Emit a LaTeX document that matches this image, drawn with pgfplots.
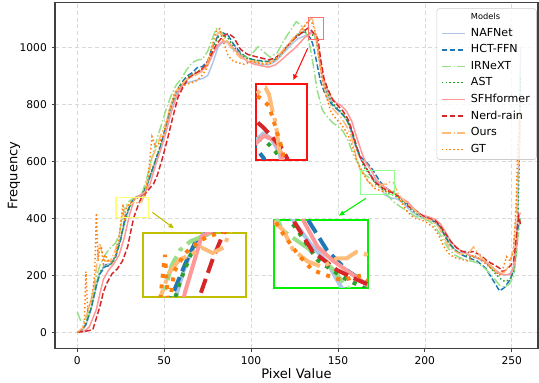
\documentclass[border=0pt]{standalone}
\usepackage{fontspec}
\setmainfont{DejaVu Sans}
\usepackage{pgfplots}
\pgfplotsset{compat=1.18}
\usepackage{pgfplotstable}
\usetikzlibrary{calc,arrows.meta}

\definecolor{cNAF}{HTML}{AEC7E8}
\definecolor{cHCT}{HTML}{1F77B4}
\definecolor{cIRN}{HTML}{98DF8A}
\definecolor{cAST}{HTML}{2CA02C}
\definecolor{cSFH}{HTML}{FF9896}
\definecolor{cNRD}{HTML}{D62728}
\definecolor{cOUR}{HTML}{FFBB78}
\definecolor{cGT}{HTML}{FF7F0E}
\definecolor{cBoxY}{HTML}{BFBF00}
\definecolor{cBoxYs}{HTML}{FFFF70}
\definecolor{cBoxG}{HTML}{00F000}
\definecolor{cBoxGs}{HTML}{90FF90}
\definecolor{cBoxR}{HTML}{FF1010}
\definecolor{cBoxRs}{HTML}{FF7070}

\tikzset{
 mdash/.style={dash pattern=on 4.2pt off 1.8pt},
 mdashdot/.style={dash pattern=on 7.2pt off 1.8pt on 1.1pt off 1.8pt},
 mdot/.style={dash pattern=on 1.1pt off 1.85pt},
 idash/.style={dash pattern=on 11pt off 4.8pt},
 idashdot/.style={dash pattern=on 19pt off 4.8pt on 3pt off 4.8pt},
 idot/.style={dash pattern=on 3pt off 5pt},
}

\pgfplotstableread{
x y
0 0
3 8
5 25
8 80
11 160
13 205
16 238
19 240
22 265
25 330
28 398
30 438
32 465
34 476
37 482
40 512
42 545
45 598
48 650
51 718
54 785
57 835
60 862
63 875
66 880
69 885
72 890
75 900
78 945
81 1000
84 1020
87 1015
90 995
94 970
98 950
102 945
106 940
110 938
114 950
118 975
121 995
124 1015
127 1030
131 1040
133.4 1047
134.6 1054
136 1047
137.2 1034
138.5 1000
140 940
142 870
144 835
147 800
150 780
153 762
156 735
159 675
162 620
164 600
167 569
171 535
174 515
177 482
180 472
184 468
188 450
192 425
196 410
200 398
204 392
208 375
211 345
214 315
217 292
220 278
223 285
226 270
230 260
235 245
240 215
243 205
246 200
249 205
251 230
252.5 300
253.5 420
254.5 700
255 1000
}\tNAF

\pgfplotstableread{
x y
0 0
3 10
5 28
8 85
11 165
13 205
16 230
19 235
22 262
25 325
27.5 404
30 440
32 466
34 474
37 480
40 515
42 550
45 602
48 655
51 725
54 795
57 845
60 875
63 898
66 910
69 928
72 932
75 950
78 1005
81 1040
84 1050
87 1040
90 1010
94 980
98 962
102 955
106 952
110 950
114 958
118 985
121 1005
124 1028
127 1045
131 1055
133.4 1037
134.6 1028
136 1000
138 940
140 880
142 845
145 810
148 790
151 775
154 755
157 725
160 660
163 615
166 600
170 570
174 530
178 505
181 492
184 480
188 462
192 438
196 418
200 402
204 394
208 376
211 345
214 312
217 290
220 275
225 262
230 250
235 225
240 175
243 145
246 158
249 185
251 215
252.5 280
253.5 360
255 400
}\tHCT

\pgfplotstableread{
x y
0 72
2 40
4 38
6 62
8 110
11 190
13 235
16 272
19 296
22 313
24 340
26 404
27.5 438
29 455
31 465
34 472
37 482
40 540
42 590
45 660
48 720
51 780
54 830
57 868
60 890
63 922
66 945
69 955
72 958
75 985
78 1035
80 1065
83 1052
87 1015
90 990
94 975
98 962
101 980
104 1002
107 985
111 965
115 980
119 1025
123 1062
126 1090
129 1075
132 1045
134 1000
136 930
138 850
141 780
144 755
147 735
150 722
153 705
156 670
159 620
162 590
165 555
170 533
175 507
178 484
182 458
186 440
190 425
194 408
198 400
202 392
205 378
208 352
211 318
214 290
217 272
220 262
225 252
230 245
235 222
240 188
243 165
246 158
249 172
251 195
252.5 260
253.5 330
255 400
}\tIRN

\pgfplotstableread{
x y
0 0
3 12
5 32
8 88
11 168
13 210
16 236
19 238
22 268
25 330
27 378
29 420
31 450
33 468
35 476
37 480
40 518
42 552
45 605
48 660
51 728
54 795
57 842
60 872
63 895
66 905
69 915
72 925
75 945
78 1000
81 1035
84 1042
87 1030
90 1002
94 975
98 960
102 955
106 950
110 948
114 958
118 985
121 1005
124 1025
127 1042
130 1055
133 1050
135 1045
136.3 1037
137.5 1027
139 970
141 900
143 855
146 810
149 790
152 772
155 745
158 700
161 640
165 580
168 555
172 518
175 505
178 493
181 484
184 474
188 455
192 432
196 412
200 400
204 392
208 373
211 342
214 310
217 290
220 278
225 266
230 262
235 248
240 210
243 190
246 178
249 185
251 210
252.5 280
253.5 400
254.5 650
255 895
}\tAST

\pgfplotstableread{
x y
0 0
3 3
5 8
7 20
9 50
11 80
13 135
15 185
18 218
21 240
24 270
27 330
30 410
33 470
36 480
39 492
42 522
45 585
48 640
51 700
54 770
57 825
60 862
63 885
66 900
69 912
72 920
75 935
78 975
81 1008
84 1022
87 1018
90 995
94 970
98 950
102 940
106 935
110 930
114 938
118 958
121 975
124 990
127 1008
131 1035
133.4 1044
134.6 1051
136.3 1047
137.5 1034
139 985
141 905
143 865
146 825
149 805
152 795
155 775
158 740
161 680
164 625
166 595
169 570
172 535
175 518
179 500
182 487
186 472
190 458
194 432
198 412
202 405
206 396
209 380
212 350
215 318
218 298
221 285
225 272
230 262
235 248
240 222
243 208
246 202
249 203
251 225
252.5 300
253.5 400
255 420
}\tSFH

\pgfplotstableread{
x y
0 0
3 2
6 5
9 10
11 50
13 90
15 140
17 172
20 205
23 222
26 250
29 300
31 360
32.6 404
35 445
37 474
39 485
41 500
44 522
46 550
49 610
52 680
55 755
58 825
61 862
64 892
67 905
70 915
73 930
76 960
80 1010
84 1040
87 1048
90 1035
94 992
98 975
102 968
106 962
110 956
114 962
118 985
121 1005
124 1025
127 1040
130 1055
133 1068
134.5 1060
136 1050
137.8 1037
138.6 1027
140 960
142 890
144 855
147 815
150 795
153 775
156 745
159 690
162 625
164 600
167 569
171 529
176 505
180 493
183 485
187 468
191 440
195 425
199 408
203 398
206 392
209 372
212 345
215 318
218 298
221 285
224 280
228 283
232 270
236 250
240 236
243 225
245 213
247 220
249 232
251 248
252 300
253 360
254 406
255 380
}\tNRD

\pgfplotstableread{
x y
0 0
3 15
5 55
7 90
9 140
11 220
12 290
13 313
14 285
16 250
19 250
22 290
24 330
25.5 404
27 430
29 445
31 450
33 458
35 452
37 458
38.5 480
41 550
43 610
45 640
48 690
51 735
54 800
57 848
60 870
63 888
66 895
69 905
72 915
75 945
78 1010
81 1052
84 1040
87 1012
90 985
94 962
98 955
102 950
106 945
110 945
114 958
118 988
121 1005
124 1030
127 1048
130 1070
132 1085
134.1 1099
134.9 1101
135.5 1094
136 1079
136.6 1065
136.9 1051
137.5 1025
139 955
141 890
143 840
146 792
149 772
152 752
155 722
158 680
161 600
163 567
165 556
167 531
170 516
173 509
176 520
178 520
180 528
182 525
185 482
188 462
192 440
196 418
200 400
204 392
208 368
211 332
214 300
217 285
220 275
225 276
228 300
232 265
236 245
240 222
243 205
246 212
249 240
251 300
252.5 400
253.5 550
255 760
}\tOUR

\pgfplotstableread{
x y
0 0
2 5
4 20
5 213
6 80
8 110
9 150
10 200
11 418
12 250
13 300
14 296
15 240
16 272
18 250
20 245
22 270
24 330
25.5 404
26.3 450
27 390
28 432
30 452
32 462
34 470
37 475
39 480
41 560
43 686
45 650
47 662
50 700
53 780
56 840
59 860
62 868
65 874
68 880
71 895
74 920
77 990
80 1058
82 1065
84 1020
87 968
90 950
93 945
96 940
100 950
104 945
108 940
112 945
116 965
120 995
124 1025
128 1050
131 1075
133 1095
134.5 1088
135.5 1082
136.6 1060
137.8 1035
139 968
141 882
143 832
146 772
149 748
152 728
155 702
158 660
161 600
164 560
168 525
171 505
174 498
177 492
181 498
183 490
186 462
190 422
194 400
198 395
201 385
205 368
208 340
211 300
214 275
217 262
220 258
225 250
228 272
232 255
236 235
240 215
243 200
245 225
247 265
249 250
251 282
252.5 450
253.5 650
255 780
}\tGT

\newcommand{\insetplots}{%
\addplot[cNAF, line width=3pt, solid, line join=round] table {\tNAF};
\addplot[cHCT, line width=3pt, idash] table {\tHCT};
\addplot[cIRN, line width=3pt, idashdot] table {\tIRN};
\addplot[cAST, line width=3pt, idot] table {\tAST};
\addplot[cSFH, line width=3pt, solid, line join=round] table {\tSFH};
\addplot[cNRD, line width=3pt, idash] table {\tNRD};
\addplot[cOUR, line width=3pt, idashdot] table {\tOUR};
\addplot[cGT, line width=3pt, idot] table {\tGT};
}

\pgfplotsset{
 insetax/.style={scale only axis, anchor=south west, ticks=none,
   axis background/.style={fill=white}, no markers},
}

\begin{document}
\begin{tikzpicture}
\begin{axis}[
 name=main,
 scale only axis,
 width=362.25pt, height=259.35pt,
 xmin=-12.8, xmax=265.1,
 ymin=-56, ymax=1157,
 xtick={0,50,100,150,200,250},
 ytick={0,200,400,600,800,1000},
 /pgf/number format/assume math mode=true,
 /pgf/number format/1000 sep={},
 tick label style={font=\fontsize{8}{9}\selectfont},
 tick align=outside, tick pos=left,
 major tick length=2.6pt,
 tick style={black!75, line width=0.6pt},
 axis line style={black!75, line width=0.8pt},
 grid=major,
 major grid style={densely dashed, black!15, line width=0.5pt},
 xlabel={Pixel Value}, ylabel={Frequency},
 label style={font=\fontsize{9.8}{11}\selectfont},
 xlabel style={at={(axis description cs:0.5,-0.0888)}, anchor=base},
 ylabel style={at={(axis description cs:-0.0849,0.5)}, anchor=center, rotate=0},
 no markers,
 legend cell align=left,
 legend image code/.code={\draw[#1] (0pt,0pt) -- (17.5pt,0pt);},
 legend style={at={(rel axis cs:0.790,0.983)}, anchor=north west,
   draw=black!20, fill=white, fill opacity=0.8, text opacity=1, draw opacity=1,
   rounded corners=2pt, font=\fontsize{8.3}{9}\selectfont,
   inner xsep=3pt, inner ysep=1.8pt, row sep=0.75pt, column sep=2pt},
]
\addplot[cNAF, line width=1.1pt, solid, forget plot] table {\tNAF};
\addplot[cHCT, line width=1.1pt, mdash, forget plot] table {\tHCT};
\addplot[cIRN, line width=1.1pt, mdashdot, forget plot] table {\tIRN};
\addplot[cAST, line width=1.1pt, mdot, forget plot] table {\tAST};
\addplot[cSFH, line width=1.1pt, solid, forget plot] table {\tSFH};
\addplot[cNRD, line width=1.1pt, mdash, forget plot] table {\tNRD};
\addplot[cOUR, line width=1.1pt, mdashdot, forget plot] table {\tOUR};
\addplot[cGT, line width=1.1pt, mdot, forget plot] table {\tGT};
% zoom source boxes
\draw[cBoxRs, line width=0.8pt] (axis cs:133.3,1026) rectangle (axis cs:141.9,1105);
\draw[cBoxYs, line width=0.8pt] (axis cs:22.3,404) rectangle (axis cs:41.1,474);
\draw[cBoxGs, line width=0.8pt] (axis cs:163.1,482) rectangle (axis cs:182.4,569);
% arrows
\draw[cBoxR, line width=0.8pt, -{Triangle[length=4pt,width=3.5pt]}] (axis cs:132.6,996.5) -- (axis cs:124.3,885);
\draw[cBoxY, line width=0.8pt, -{Triangle[length=4pt,width=3.5pt]}] (axis cs:43.2,421) -- (axis cs:55.6,365);
\draw[cBoxG, line width=0.8pt, -{Triangle[length=4pt,width=3.5pt]}] (axis cs:166.1,470) -- (axis cs:150.6,409);
% legend
\addlegendimage{empty legend}
\addlegendentry{\fontsize{6.2}{7}\selectfont Models}
\addlegendimage{cNAF, line width=1.1pt, solid} \addlegendentry{NAFNet}
\addlegendimage{cHCT, line width=1.1pt, mdash} \addlegendentry{HCT-FFN}
\addlegendimage{cIRN, line width=1.1pt, mdashdot} \addlegendentry{IRNeXT}
\addlegendimage{cAST, line width=1.1pt, mdot} \addlegendentry{AST}
\addlegendimage{cSFH, line width=1.1pt, solid} \addlegendentry{SFHformer}
\addlegendimage{cNRD, line width=1.1pt, mdash} \addlegendentry{Nerd-rain}
\addlegendimage{cOUR, line width=1.1pt, mdashdot} \addlegendentry{Ours}
\addlegendimage{cGT, line width=1.1pt, mdot} \addlegendentry{GT}
\end{axis}

% red inset
\begin{axis}[insetax, at={($(main.south west)+(150.75pt,141.2pt)$)},
 width=38.25pt, height=57pt,
 xmin=133.3, xmax=141.9, ymin=1026, ymax=1105,
 axis line style={cBoxR, line width=0.9pt}]
\insetplots
\end{axis}

% yellow inset
\begin{axis}[insetax, at={($(main.south west)+(66pt,38.5pt)$)},
 width=77.25pt, height=48pt,
 xmin=22.3, xmax=41.1, ymin=404, ymax=474,
 axis line style={cBoxY, line width=0.9pt}]
\insetplots
\end{axis}

% green inset
\begin{axis}[insetax, at={($(main.south west)+(164.25pt,45.2pt)$)},
 width=70.5pt, height=51pt,
 xmin=163.1, xmax=182.4, ymin=482, ymax=569,
 axis line style={cBoxG, line width=0.9pt}]
\insetplots
\end{axis}

\pgfresetboundingbox
\path[use as bounding box] ($(main.south west)+(-41.25pt,-26pt)$) rectangle ($(main.south west)+(363pt,261.2pt)$);
\end{tikzpicture}
\end{document}
